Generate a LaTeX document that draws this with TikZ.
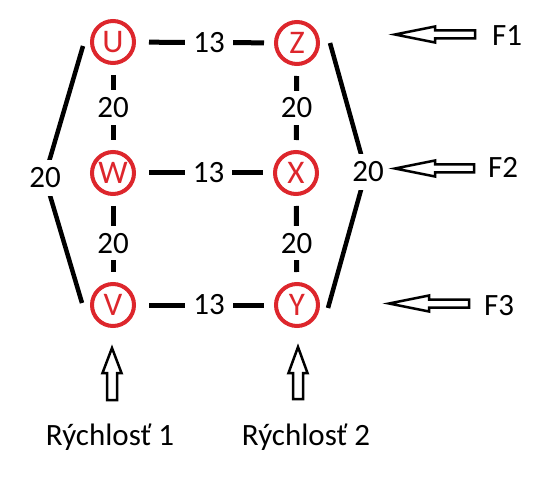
\documentclass[tikz,border=0pt]{standalone}
\usepackage{fontspec}
\setmainfont{Carlito}
\definecolor{nodered}{RGB}{221,38,44}
\begin{document}
\begin{tikzpicture}[x=1pt,y=-1pt,
  vert/.style={circle,draw=nodered,line width=4pt,minimum size=42pt,inner sep=0pt,text=nodered,font=\fontsize{33}{34}\selectfont},
  edge/.style={line width=5pt},
  hedge/.style={edge,shorten <=13pt,shorten >=10pt},
  vedge/.style={edge,shorten <=10pt,shorten >=10pt},
  lbl/.style={fill=white,font=\fontsize{31}{32}\selectfont,inner xsep=8pt,inner ysep=6pt},
  hollow/.style={draw=black,line width=2.5pt,fill=white,line join=miter},
  txt/.style={font=\fontsize{31}{32}\selectfont,inner sep=0pt}]
\useasboundingbox (0,0) rectangle (542,495);
% vertices
\node[vert] (U) at (113,42) {U};
\node[vert] (Z) at (297,43) {Z};
\node[vert] (W) at (113,173) {W};
\node[vert] (X) at (296,173) {X};
\node[vert] (V) at (113,305) {V};
\node[vert] (Y) at (297,305) {Y};
% horizontal edges
\draw[hedge] (U) -- node[lbl,pos=0.53] {13} (Z);
\draw[hedge] (W) -- node[lbl,pos=0.53] {13} (X);
\draw[hedge] (V) -- node[lbl,pos=0.53] {13} (Y);
% vertical edges
\draw[vedge] (U) -- node[lbl,inner ysep=7pt] {20} (W);
\draw[vedge] (W) -- node[lbl,inner ysep=7pt,pos=0.55] {20} (V);
\draw[vedge] (Z) -- node[lbl,inner ysep=7pt] {20} (X);
\draw[vedge] (X) -- node[lbl,inner ysep=7pt,pos=0.55] {20} (Y);
% outer edges
\coordinate (L) at (44.5,177);
\coordinate (R) at (366,172);
\draw[edge,line width=4.5pt] ([xshift=-7pt,yshift=-4pt]U.west) -- (L) -- ([xshift=-8pt,yshift=2pt]V.west);
\node[lbl,inner ysep=8pt,inner xsep=3pt] (lL) at (45,178) {20};
\draw[edge,line width=4.5pt] ([xshift=10pt]Z.east) -- (R) -- ([xshift=8pt,yshift=-3pt]Y.east);
\node[lbl,inner ysep=8pt,inner xsep=3pt] (lR) at (368,172) {20};
% force arrows (hollow block arrows pointing left)
\draw[hollow] (395,34.5) -- (435,26.5) -- (435,30.5) -- (475,30.5) -- (475,38.5) -- (435,38.5) -- (435,42.5) -- cycle;
\draw[hollow] (395,168.5) -- (435,160.5) -- (435,164.5) -- (474,164.5) -- (474,172.5) -- (435,172.5) -- (435,176.5) -- cycle;
\draw[hollow] (389,303.5) -- (429,295.5) -- (429,299.5) -- (469,299.5) -- (469,307.5) -- (429,307.5) -- (429,311.5) -- cycle;
\node[txt] (F1) at (507,36) {F1};
\node[txt] (F2) at (503,167) {F2};
\node[txt] (F3) at (499,306) {F3};
% speed arrows (hollow block arrows pointing up)
\draw[hollow] (112,348) -- (121.5,373) -- (117,373) -- (117,400) -- (107,400) -- (107,373) -- (102.5,373) -- cycle;
\draw[hollow] (298,347) -- (307.5,373) -- (303,373) -- (303,399) -- (293,399) -- (293,373) -- (288.5,373) -- cycle;
\node[txt,anchor=base] (S1) at (110,445) {Rýchlosť 1};
\node[txt,anchor=base] (S2) at (306,445) {Rýchlosť 2};
\end{tikzpicture}
\end{document}
